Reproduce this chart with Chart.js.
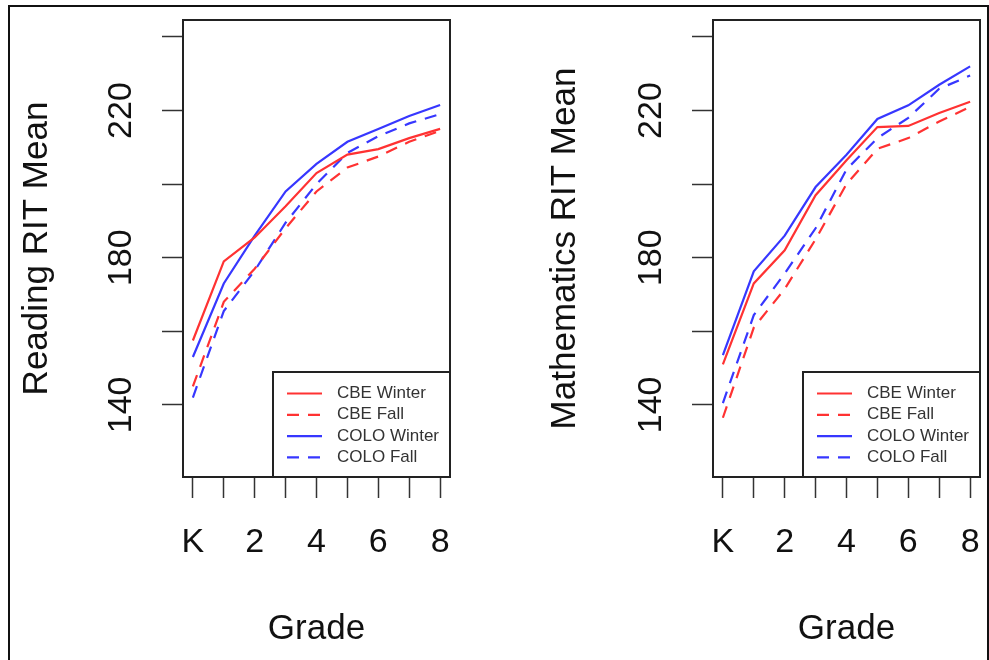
<!DOCTYPE html>
<html lang="en">
<head>
<meta charset="UTF-8" />
<title>RIT Mean by Grade</title>
<script src="https://cdn.jsdelivr.net/npm/chart.js"></script>
<style>
  body { margin: 0; background: #fff; }
  #frame { position: absolute; left: 8px; top: 5px; width: 977px; height: 700px; border: 2px solid #111; }
  .panel { position: absolute; top: 0; height: 660px; }
</style>
</head>
<body>
<div id="frame"></div>
<div class="panel" style="left:0;width:495px"><canvas id="chartReading" width="495" height="660"></canvas></div>
<div class="panel" style="left:495px;width:494px"><canvas id="chartMath" width="494" height="660"></canvas></div>

<script>
// grades K..8 (K = 0)
const grades = [0, 1, 2, 3, 4, 5, 6, 7, 8];
const gradeLabels = ['K', '', '2', '', '4', '', '6', '', '8'];
const yTicks = [140, 160, 180, 200, 220, 240];
const yTickLabels = ['140', '', '180', '', '220', ''];
const seriesNames = ['CBE Winter', 'CBE Fall', 'COLO Winter', 'COLO Fall'];

// Reading RIT means
const readingCbeWinter  = [157.5, 179, 185.5, 194, 203, 208, 209.5, 212.5, 215];
const readingCbeFall    = [145, 168, 177, 188, 198, 204.5, 207.5, 211.5, 214.5];
const readingColoWinter = [153, 173, 186, 198, 205.5, 211.5, 215, 218.5, 221.5];
const readingColoFall   = [142, 165.5, 176.5, 189.5, 200, 208.5, 213, 216.5, 219];

// Mathematics RIT means
const mathCbeWinter  = [151, 173, 182, 197, 206.5, 215.5, 215.8, 219.3, 222.4];
const mathCbeFall    = [136.5, 161, 171.5, 185, 200, 209.6, 212.5, 217, 221];
const mathColoWinter = [153.5, 176.3, 186, 199.2, 208, 217.7, 221.4, 227, 232];
const mathColoFall   = [140.5, 164.4, 175.7, 188, 204, 212.5, 218, 225.9, 229.5];

const RED = 'rgb(255,50,50)';
const BLUE = 'rgb(55,55,255)';

Chart.defaults.font.family = '"Liberation Sans", Arial, sans-serif';
Chart.defaults.color = '#111';

const boxFrame = {
  id: 'boxFrame',
  afterDraw(chart) {
    const { ctx, chartArea: a } = chart;
    ctx.save();
    ctx.strokeStyle = '#222';
    ctx.lineWidth = 2;
    ctx.strokeRect(a.left, a.top, a.right - a.left, a.bottom - a.top);
    ctx.restore();
  }
};

// legend box in the lower right corner, like R's legend("bottomright")
const boxLegend = {
  id: 'boxLegend',
  afterDraw(chart) {
    const { ctx, chartArea: a } = chart;
    const w = 177, h = 105;
    const x0 = a.right - w, y0 = a.bottom - h;
    ctx.save();
    ctx.fillStyle = '#fff';
    ctx.fillRect(x0, y0, w, h);
    ctx.strokeStyle = '#222';
    ctx.lineWidth = 2;
    ctx.strokeRect(x0, y0, w, h);
    ctx.font = '17px "Liberation Sans", Arial, sans-serif';
    ctx.textBaseline = 'middle';
    chart.data.datasets.forEach((ds, i) => {
      const y = y0 + 21.5 + i * 21.3;
      ctx.strokeStyle = ds.borderColor;
      ctx.lineWidth = ds.borderWidth;
      ctx.setLineDash(ds.borderDash || []);
      ctx.beginPath();
      ctx.moveTo(x0 + 14, y);
      ctx.lineTo(x0 + 49, y);
      ctx.stroke();
      ctx.setLineDash([]);
      ctx.fillStyle = '#333';
      ctx.fillText(ds.label, x0 + 64, y);
    });
    ctx.restore();
  }
};

function makeLine(label, values, color, dashed) {
  return {
    label: label,
    data: grades.map((g, i) => ({ x: g, y: values[i] })),
    borderColor: color,
    borderWidth: 2.2,
    borderDash: dashed ? [12, 9] : [],
    pointRadius: 0,
    tension: 0,
    fill: false
  };
}

function makeChart(id, yTitle, series, yAxisWidth, yTitlePad, rightPad) {
  const ctx = document.getElementById(id).getContext('2d');
  return new Chart(ctx, {
    type: 'line',
    data: {
      datasets: [
        makeLine(seriesNames[0], series[0], RED, false),
        makeLine(seriesNames[1], series[1], RED, true),
        makeLine(seriesNames[2], series[2], BLUE, false),
        makeLine(seriesNames[3], series[3], BLUE, true)
      ]
    },
    options: {
      responsive: false,
      animation: false,
      layout: { padding: { left: 0, right: rightPad, top: 20, bottom: 0 } },
      plugins: { legend: { display: false }, tooltip: { enabled: false } },
      scales: {
        x: {
          type: 'linear',
          min: -0.32,
          max: 8.32,
          afterBuildTicks: (s) => { s.ticks = grades.map(v => ({ value: v })); },
          afterFit: (s) => { s.height = 183; s.paddingLeft = 0; s.paddingRight = 0; },
          ticks: {
            autoSkip: false,
            maxRotation: 0,
            padding: 24,
            color: '#111',
            font: { size: 34 },
            callback: (v) => gradeLabels[grades.indexOf(v)]
          },
          grid: { drawOnChartArea: false, tickLength: 21, tickWidth: 1.5, tickColor: '#333' },
          border: { display: true, color: '#222', width: 2 },
          title: { display: true, text: 'Grade', font: { size: 35 }, color: '#111', padding: { top: 0, bottom: 10 } }
        },
        y: {
          min: 120.4,
          max: 244.6,
          afterBuildTicks: (s) => { s.ticks = yTicks.map(v => ({ value: v })); },
          afterFit: (s) => { s.width = yAxisWidth; s.paddingTop = 0; s.paddingBottom = 0; },
          ticks: {
            minRotation: 90,
            maxRotation: 90,
            crossAlign: 'center',
            padding: 12,
            color: '#111',
            font: { size: 34 },
            callback: (v) => yTickLabels[yTicks.indexOf(v)]
          },
          grid: { drawOnChartArea: false, tickLength: 21, tickWidth: 1.5, tickColor: '#333' },
          border: { display: true, color: '#222', width: 2 },
          title: { display: true, text: yTitle, font: { size: 35 }, color: '#111', padding: { top: yTitlePad, bottom: 0 } }
        }
      }
    },
    plugins: [boxFrame, boxLegend]
  });
}

makeChart('chartReading', 'Reading RIT Mean',
  [readingCbeWinter, readingCbeFall, readingColoWinter, readingColoFall], 183, 16, 45);
makeChart('chartMath', 'Mathematics RIT Mean',
  [mathCbeWinter, mathCbeFall, mathColoWinter, mathColoFall], 218, 49, 9);
</script>
</body>
</html>
